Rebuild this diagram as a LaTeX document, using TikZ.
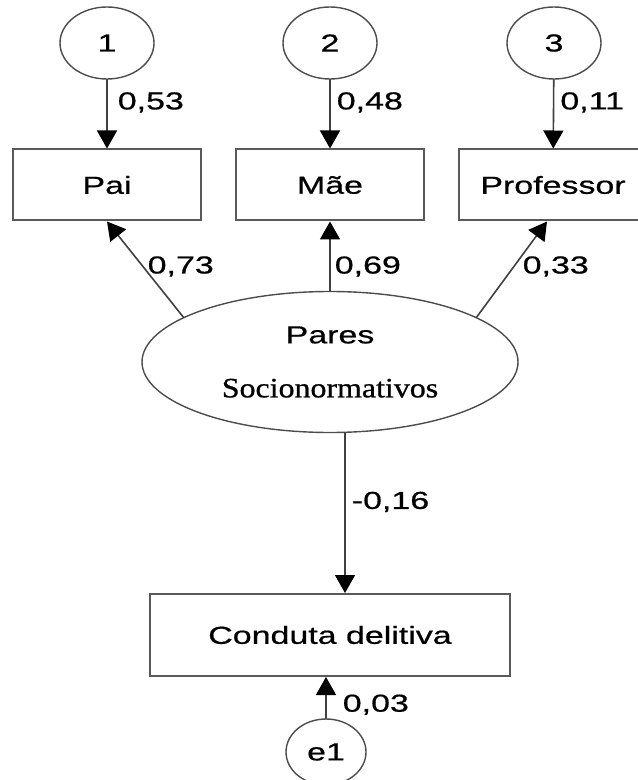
\documentclass[tikz,border=0pt]{standalone}
\usepackage{fontspec}
\newfontfamily\pathsans[FakeStretch = 1.38, FakeBold = 0.6]{Liberation Sans}
\newfontfamily\pathserif[FakeStretch = 1.14, FakeBold = 0.8]{Liberation Serif}
\usetikzlibrary{arrows.meta, shapes.geometric}

\begin{document}
\begin{tikzpicture}[%
        x = 0.5pt,
        y = -0.5pt,
        line cap = round,
        > = {Triangle[length = 9pt, width = 10pt, color = black]},
        observed/.style = {%
            draw = black!65,
            line width = 1pt,
            minimum width = 94pt,
            minimum height = 35.5pt,
            inner sep = 0pt
        },
        residual/.style = {%
            ellipse,
            draw = black!70,
            line width = 0.7pt,
            inner sep = 0pt
        },
        path/.style = {->, draw = black!75, line width = 0.8pt},
        coef/.style = {inner sep = 0pt},
        font = \pathsans\fontsize{12.3}{14}\selectfont
    ]

        % Fix the size of the page.
        \useasboundingbox (0, 0) rectangle (637, 780);

        % Error terms of the three indicators.
        \node[residual, minimum width = 47pt, minimum height = 36pt] (u1) at (107, 43) {1};
        \node[residual, minimum width = 47pt, minimum height = 36pt] (u2) at (330, 43) {2};
        \node[residual, minimum width = 47pt, minimum height = 36pt] (u3) at (554, 43) {3};

        % The observed variables.
        \node[observed] (pai) at (107, 185) {Pai};
        \node[observed] (mae) at (330, 185) {Mãe};
        \node[observed] (prof) at (553, 185) {Professor};
        \node[observed, minimum width = 180pt, minimum height = 41pt] (conduta) at (330, 635) {Conduta delitiva};

        % The latent factor and the residual of the outcome.
        \node[residual, minimum width = 188pt, minimum height = 70.5pt, align = center] (pares) at (330, 362)
            {Pares\\[13pt]{\pathserif\fontsize{14}{15}\selectfont Socionormativos}};
        \node[residual, minimum width = 40pt, minimum height = 33pt] (e1) at (326, 752) {e1};

        % Errors onto the indicators.
        \draw[path] (u1) -- node[coef, pos = 0.33, right = 5pt] {0,53} (pai);
        \draw[path] (u2) -- node[coef, pos = 0.33, right = 3pt] {0,48} (mae);
        \draw[path] (u3) -- node[coef, pos = 0.33, right = 3pt] {0,11} (prof);

        % Loadings of the factor.
        \draw[path] (pares.163) -- node[coef, pos = 0.53, right = 2pt] {0,73} (pai.south);
        \draw[path] (pares.north) -- node[coef, pos = 0.35, right = 2pt] {0,69} (mae.south);
        \draw[path] (pares.17) -- node[coef, pos = 0.53, right = 4pt] {0,33} ([xshift = -3pt]prof.south);

        % Path to the outcome and its residual.
        \draw[path] ([xshift = 7.5pt]pares.south) -- node[coef, pos = 0.43, right = 3pt] {-0,16} ([xshift = 7.5pt]conduta.north);
        \draw[path] (e1.north) -- node[coef, pos = 0.33, right = 8pt] {0,03} (e1 |- conduta.south);
    \end{tikzpicture}
\end{document}
